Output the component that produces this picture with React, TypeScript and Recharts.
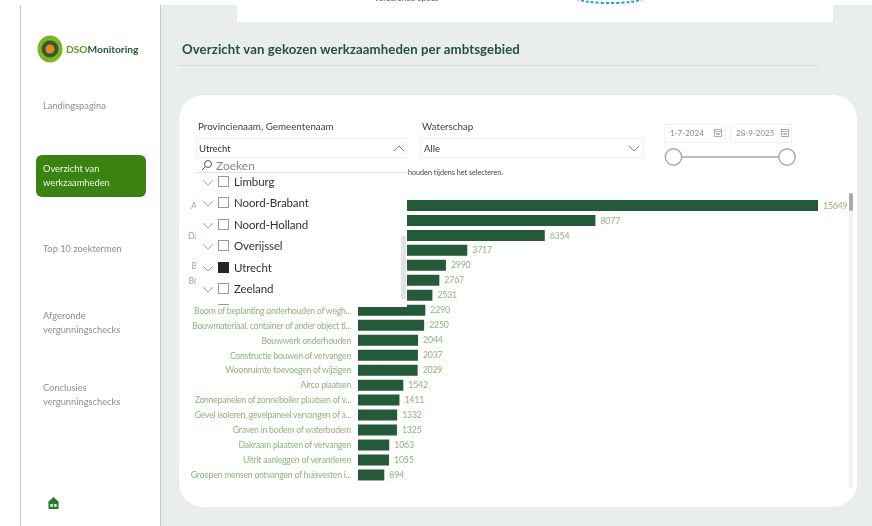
import React from "react";
import { BarChart, Bar, XAxis, YAxis, LabelList } from "recharts";

const categories = [
  "Aanbouw, uitbouw of bijgebouw plaatsen o...",
  "",
  "Dakkapel plaatsen, vervangen of veranderen...",
  "",
  "Bestemmingsplan of omgevingsplan wijzige...",
  "Bedrijfspand of winkelruimte gebruiken of w...",
  "",
  "Boom of beplanting onderhouden of wegh...",
  "Bouwmateriaal, container of ander object ti...",
  "Bouwwerk onderhouden",
  "Constructie bouwen of vervangen",
  "Woonruimte toevoegen of wijzigen",
  "Airco plaatsen",
  "Zonnepanelen of zonneboiler plaatsen of v...",
  "Gevel isoleren, gevelpaneel vervangen of a...",
  "Graven in bodem of waterbodem",
  "Dakraam plaatsen of vervangen",
  "Uitrit aanleggen of veranderen",
  "Groepen mensen ontvangen of huisvesten i...",
];
const counts = [15649, 8077, 6354, 3717, 2990, 2767, 2531, 2290, 2250, 2044, 2037, 2029, 1542, 1411, 1332, 1325, 1063, 1055, 894];
const navItems = ["Landingspagina", "Top 10 zoektermen", "Afgeronde\nvergunningschecks", "Conclusies\nvergunningschecks"];
const navTops = [99, 242, 309, 381];
const provinces = ["Limburg", "Noord-Brabant", "Noord-Holland", "Overijssel", "Utrecht", "Zeeland"];

const data = categories.map((name, i) => ({ id: i, name, value: counts[i] }));
const font = "Lato, 'Noto Sans', sans-serif";

const box = (left: number, top: number, width: number, height: number, extra: React.CSSProperties = {}): React.CSSProperties => ({
  position: "absolute", left, top, width, height, boxSizing: "border-box", ...extra,
});

const Chevron = ({ x, y, up, color = "#777" }: { x: number; y: number; up?: boolean; color?: string }) => (
  <svg style={{ position: "absolute", left: x, top: y }} width="12" height="7" viewBox="0 0 12 7">
    <path d={up ? "M1 6 L6 1 L11 6" : "M1 1 L6 6 L11 1"} fill="none" stroke={color} strokeWidth="0.9" />
  </svg>
);

const CategoryTick = (props: any) => {
  const { x, y, payload } = props;
  return (
    <text x={x + 1} y={y} dy={3.3} textAnchor="end" fontSize={8.7} letterSpacing={-0.25} fill="#8fb47f" fontFamily={font}>
      {categories[payload.value]}
    </text>
  );
};

const CalendarIcon = ({ x, y }: { x: number; y: number }) => (
  <svg style={{ position: "absolute", left: x, top: y }} width="8" height="8" viewBox="0 0 8 8">
    <rect x="0.5" y="0.5" width="7" height="7" fill="none" stroke="#999" strokeWidth="0.8" />
    <line x1="0.5" y1="2.6" x2="7.5" y2="2.6" stroke="#999" strokeWidth="0.8" />
    <rect x="2" y="4" width="4" height="2" fill="#bbb" />
  </svg>
);

export default function App() {
  return (
    <div style={{ position: "absolute", left: 0, top: 0, width: 872, height: 526, overflow: "hidden", background: "#e9edeb", fontFamily: font, filter: "blur(0.35px)" }}>
      <div style={box(0, 0, 20, 526, { background: "#fff" })} />
      <div style={box(20, 5, 141, 521, { background: "#fff", borderLeft: "1px solid #c4c7c5", borderRight: "1px solid #c4c8c6" })} />
      <div style={box(0, 0, 872, 5, { background: "#fff" })} />
      <div style={box(237, 0, 596, 22, { background: "#fff" })} />
      <div style={{ position: "absolute", left: 374, top: -7, fontSize: 8, color: "#555" }}>Vorderende opties</div>
      <svg style={{ position: "absolute", left: 570, top: 0 }} width="80" height="6">
        <ellipse cx="40" cy="-2" rx="33" ry="5" fill="none" stroke="#1f9be0" strokeWidth="2" strokeDasharray="3 2" />
      </svg>

      <svg style={{ position: "absolute", left: 36, top: 35 }} width="28" height="28">
        <ellipse cx="14" cy="14" rx="12.5" ry="13.5" fill="#7fb321" />
        <circle cx="14" cy="14" r="8.5" fill="#2f5a34" />
        <circle cx="14" cy="14" r="4.5" fill="#e8871e" />
      </svg>
      <div style={{ position: "absolute", left: 66, top: 43, fontSize: 10.2, fontWeight: 700, whiteSpace: "nowrap" }}>
        <span style={{ color: "#5d9a1e" }}>DSO</span><span style={{ color: "#1f5a35" }}>Monitoring</span>
      </div>

      {navItems.map((t, i) => (
        <div key={t} style={{ position: "absolute", left: 43, top: navTops[i], fontSize: 9.3, lineHeight: "14px", color: "#8a8f8c", whiteSpace: "pre" }}>{t}</div>
      ))}
      <div style={box(36, 155, 110, 42, { background: "#3b8310", borderRadius: 6, color: "#eef5e8", fontSize: 9.3, lineHeight: "14px", padding: "7px 7px", whiteSpace: "pre" })}>{"Overzicht van\nwerkzaamheden"}</div>
      <svg style={{ position: "absolute", left: 47, top: 496 }} width="13" height="14" viewBox="0 0 13 14">
        <path d="M6.5 1 L12.5 6.5 L11.5 6.5 L11.5 13 L1.5 13 L1.5 6.5 L0.5 6.5 Z" fill="#2b7a2a" />
        <rect x="3.5" y="8" width="2.2" height="3" fill="#fff" />
        <rect x="7.3" y="8" width="2.2" height="3" fill="#fff" />
      </svg>

      <div style={{ position: "absolute", left: 182, top: 41, fontSize: 13.2, fontWeight: 700, color: "#24523a", whiteSpace: "nowrap", letterSpacing: 0.1 }}>Overzicht van gekozen werkzaamheden per ambtsgebied</div>
      <div style={box(178, 65, 640, 1, { background: "#d6dbd8" })} />

      <div style={box(179, 95, 678, 412, { background: "#fff", borderRadius: 24 })} />

      <div style={{ position: "absolute", left: 198, top: 120, fontSize: 9.8, color: "#444", whiteSpace: "nowrap" }}>Provincienaam, Gemeentenaam</div>
      <div style={{ position: "absolute", left: 422, top: 120, fontSize: 9.8, color: "#444" }}>Waterschap</div>
      <div style={box(420, 138, 224, 20, { border: "1px solid #f0f1f0" })} />
      <div style={{ position: "absolute", left: 424, top: 143, fontSize: 9.5, color: "#333" }}>Alle</div>
      <Chevron x={628} y={145} />
      <div style={{ position: "absolute", left: 408, top: 168, fontSize: 7.2, color: "#444", whiteSpace: "nowrap" }}>houden tijdens het selecteren.</div>

      <div style={box(664, 124, 62, 19, { border: "1px solid #f1f2f1", fontSize: 8, color: "#8a8a8a", padding: "3px 5px" })}>1-7-2024</div>
      <div style={box(730, 124, 62, 19, { border: "1px solid #f1f2f1", fontSize: 8, color: "#8a8a8a", padding: "3px 5px" })}>28-9-2025</div>
      <CalendarIcon x={714} y={129} />
      <CalendarIcon x={781} y={129} />
      <svg style={{ position: "absolute", left: 660, top: 145 }} width="142" height="28">
        <line x1="22" y1="12" x2="120" y2="12" stroke="#a9a9a9" strokeWidth="1.6" />
        <circle cx="13.5" cy="12" r="8.2" fill="#fff" stroke="#a9a9a9" strokeWidth="1.4" />
        <circle cx="127" cy="12" r="8.2" fill="#fff" stroke="#a9a9a9" strokeWidth="1.4" />
      </svg>

      <div style={box(849, 193, 4, 295, { background: "#f2f3f2" })} />
      <div style={box(849, 193, 4, 18, { background: "#a9a9a9", borderRadius: 2 })} />

      <div style={{ position: "absolute", left: 0, top: 195 }}>
        <BarChart
          width={860}
          height={290}
          data={data}
          layout="vertical"
          barCategoryGap="13%"
          margin={{ top: 3, right: 42, bottom: 2.5, left: 190 }}
        >
          <XAxis type="number" hide domain={[0, 15649]} />
          <YAxis type="category" dataKey="id" width={168} axisLine={false} tickLine={false} interval={0} tick={<CategoryTick />} />
          <Bar dataKey="value" fill="#24593a" isAnimationActive={false}>
            <LabelList dataKey="value" position="right" offset={5} fontSize={8.8} letterSpacing={-0.2} fill="#8fb47f" fontFamily={font} />
          </Bar>
        </BarChart>
      </div>

      <div style={box(196, 138, 211, 169, { background: "#fff" })} />
      <div style={box(196, 138, 211, 20, { border: "1px solid #f0f1f0" })} />
      <div style={{ position: "absolute", left: 199, top: 143, fontSize: 9.5, color: "#333" }}>Utrecht</div>
      <Chevron x={393} y={145} up />
      <svg style={{ position: "absolute", left: 201, top: 159 }} width="12" height="12" viewBox="0 0 12 12">
        <circle cx="7" cy="5" r="3.5" fill="none" stroke="#555" strokeWidth="1" />
        <line x1="4.4" y1="7.6" x2="1" y2="11" stroke="#555" strokeWidth="1" />
      </svg>
      <div style={{ position: "absolute", left: 216, top: 158, fontSize: 12, color: "#888" }}>Zoeken</div>
      <div style={box(196, 172, 211, 1, { background: "#e4e5e4" })} />
      {provinces.map((p, i) => (
        <React.Fragment key={p}>
          <Chevron x={202} y={179 + i * 21.4} color="#999" />
          <div style={box(218, 176 + i * 21.4, 11, 11, p === "Utrecht" ? { background: "#252525" } : { border: "1px solid #999" })} />
          <div style={{ position: "absolute", left: 234, top: 175 + i * 21.4, fontSize: 11.5, letterSpacing: -0.1, color: "#333", whiteSpace: "nowrap" }}>{p}</div>
        </React.Fragment>
      ))}
      <div style={box(218, 304, 11, 3, { borderTop: "1px solid #999" })} />
      <div style={box(401, 236, 5, 63, { background: "#e3e3e3" })} />
    </div>
  );
}
